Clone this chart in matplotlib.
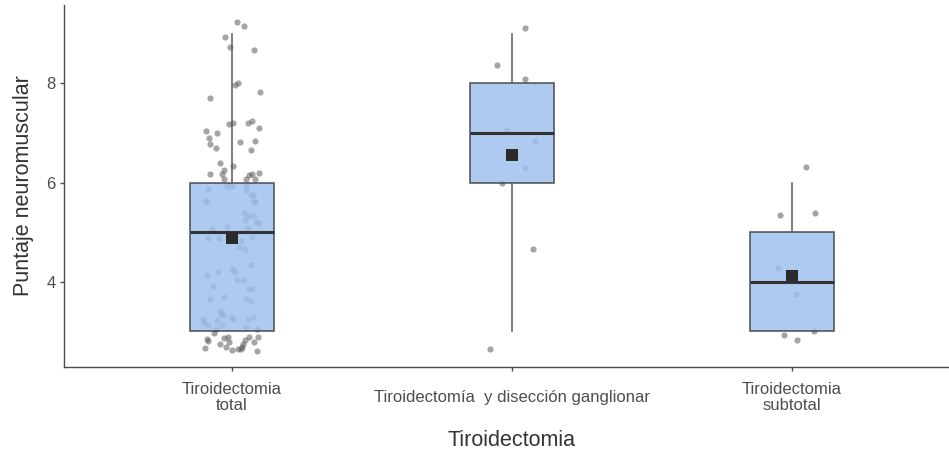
import matplotlib
matplotlib.use("Agg")
import matplotlib.pyplot as plt
import numpy as np

plt.rcParams['font.family'] = ['Liberation Sans', 'DejaVu Sans']

# Groups and tick labels
categories = ["Tiroidectomia\ntotal",
              "Tiroidectomía  y disección ganglionar",
              "Tiroidectomia\nsubtotal"]

# Box summaries per group (whisker low, Q1, median, Q3, whisker high, mean)
whisker_low = [3, 3, 3]
q1 = [3, 6, 3]
median = [5, 7, 4]
q3 = [6, 8, 5]
whisker_high = [9, 9, 6]
means = [4.89, 6.55, 4.12]

# Jittered observations: horizontal jitter offset and jittered score
total_dx = [0.019, 0.044, -0.026, -0.006, 0.078, 0.023, 0.011, 0.099, -0.080, -0.011,
            0.005, 0.057, 0.073, 0.098, -0.092, -0.053, -0.081, 0.028, 0.082, -0.078,
            -0.056, 0.067, -0.043, 0.005, -0.029, -0.078, -0.035, -0.030, 0.098, 0.073,
            0.061, 0.051, 0.081, -0.019, -0.001, 0.050, -0.086, 0.051, 0.068, 0.076,
            -0.098, -0.088, 0.078, 0.082, 0.043, 0.057, 0.075, 0.045, 0.085, 0.096,
            -0.017, 0.057, -0.070, -0.086, -0.048, 0.073, 0.032, 0.026, 0.048, 0.068,
            0.001, -0.090, -0.050, 0.010, 0.019, 0.040, -0.067, 0.061, 0.070, -0.079,
            -0.028, 0.051, 0.068, -0.044, -0.040, -0.031, 0.001, 0.076, -0.104, 0.058,
            -0.100, -0.085, -0.053, -0.037, 0.050, 0.090, -0.057, -0.063, -0.089, -0.085,
            -0.029, -0.013, -0.011, 0.045, 0.040, 0.062, 0.093, 0.079, -0.044, -0.020,
            -0.098, 0.001, 0.021, 0.031, 0.037, 0.088, 0.004]
total_y = [9.24, 9.16, 8.93, 8.73, 8.68, 8.01, 7.97, 7.82, 7.70, 7.18,
           7.21, 7.20, 7.24, 7.10, 7.04, 7.00, 6.90, 6.81, 6.84, 6.77,
           6.70, 6.66, 6.40, 6.34, 6.25, 6.17, 6.17, 6.08, 6.20, 6.18,
           6.15, 6.08, 6.07, 5.94, 5.94, 5.94, 5.86, 5.85, 5.75, 5.75,
           5.62, 5.61, 5.62, 5.61, 5.39, 5.32, 5.32, 5.25, 5.21, 5.19,
           5.11, 5.09, 5.06, 4.88, 4.88, 4.90, 4.83, 4.69, 4.66, 4.34,
           4.25, 4.14, 4.20, 4.20, 4.03, 4.03, 3.91, 3.85, 3.85, 3.65,
           3.69, 3.66, 3.62, 3.41, 3.34, 3.33, 3.29, 3.29, 3.25, 3.24,
           3.16, 3.13, 3.23, 3.13, 3.09, 3.04, 3.05, 2.96, 2.84, 2.80,
           2.86, 2.89, 2.79, 2.82, 2.74, 2.89, 2.89, 2.78, 2.74, 2.69,
           2.66, 2.62, 2.64, 2.64, 2.69, 2.60, 3.25]

gang_dx = [0.045, -0.054, 0.046, -0.017, 0.081, 0.045, -0.036, 0.074, -0.079]
gang_y = [9.11, 8.38, 8.09, 7.06, 6.83, 6.30, 6.00, 4.65, 2.64]

sub_dx = [0.051, -0.044, 0.081, -0.049, 0.013, -0.030, 0.017, 0.079]
sub_y = [6.31, 5.35, 5.39, 4.28, 3.76, 2.93, 2.83, 3.01]

group_dx = [total_dx, gang_dx, sub_dx]
group_y = [total_y, gang_y, sub_y]

W, H = 949, 454
fig = plt.figure(figsize=(W / 100, H / 100), dpi=100)
ax = fig.add_axes([64 / W, 87 / H, 896 / W, 362 / H])

positions = np.arange(len(categories))

# Points first so the translucent boxes sit over them
for i, (dx, yy) in enumerate(zip(group_dx, group_y)):
    ax.scatter(positions[i] + np.array(dx), yy, s=20, color="#4d4d4d",
               alpha=0.5, linewidths=0, zorder=1)

stats = []
for i in range(len(categories)):
    stats.append(dict(whislo=whisker_low[i], q1=q1[i], med=median[i],
                      q3=q3[i], whishi=whisker_high[i], fliers=[]))

ax.bxp(stats, positions=positions, widths=0.3, patch_artist=True,
       showcaps=False, showfliers=False,
       boxprops=dict(facecolor="#a0c1ef", alpha=0.85, edgecolor="#333333",
                     linewidth=1.1),
       medianprops=dict(color="#333333", linewidth=2.2),
       whiskerprops=dict(color="#5a5a5a", linewidth=1.1),
       zorder=2)

ax.scatter(positions, means, marker="s", s=70, color="#2b2b2b", zorder=3,
           linewidths=0)

ax.set_xlim(-0.6, 2.6)
ax.set_ylim(2.28, 9.58)
ax.set_yticks([4, 6, 8])
ax.set_xticks(positions)
ax.set_xticklabels(categories, va="center", linespacing=1.05)

for side in ("top", "right"):
    ax.spines[side].set_visible(False)
for side in ("left", "bottom"):
    ax.spines[side].set_color("#4d4d4d")
    ax.spines[side].set_linewidth(1.0)

ax.tick_params(axis="both", colors="#4d4d4d", length=3, width=1.0,
               labelsize=12, labelcolor="#4d4d4d")
ax.tick_params(axis="x", pad=19)
ax.tick_params(axis="y", pad=3)

ax.set_xlabel("Tiroidectomia", fontsize=15.5, color="#333333", labelpad=12)
ax.set_ylabel("Puntaje neuromuscular", fontsize=15.5, color="#333333", labelpad=9)

fig.savefig("out.png", dpi=100)
